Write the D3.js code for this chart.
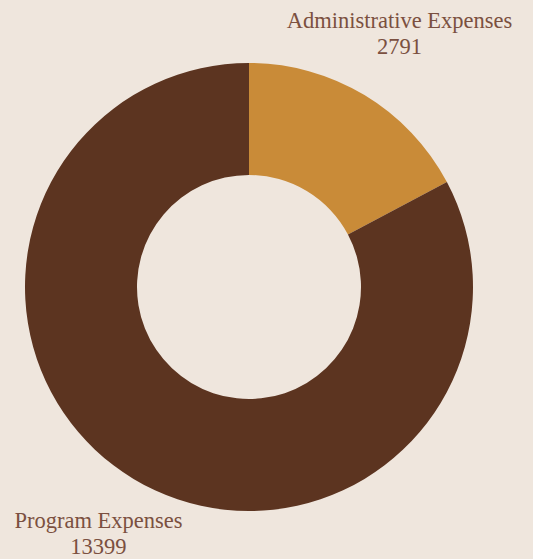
<!DOCTYPE html>
<html>
<head>
<meta charset="utf-8">
<script src="https://cdn.jsdelivr.net/npm/d3@7"></script>
<style>
  html, body { margin: 0; padding: 0; background: #efe6dd; }
  svg { display: block; }
</style>
</head>
<body>
<svg id="chart" width="533" height="559"></svg>
<script>
// Expense breakdown
const categories = ["Administrative Expenses", "Program Expenses"];
const values = [2791, 13399];
const colors = ["#c98b38", "#5c3420"];

const width = 533, height = 559;
const cx = 249, cy = 287;
const outerR = 224, innerR = 112, labelR = 292;

const svg = d3.select("#chart");
svg.append("rect").attr("width", width).attr("height", height).attr("fill", "#efe6dd");

const data = categories.map((c, i) => ({ name: c, value: values[i], color: colors[i] }));

const pie = d3.pie().value(d => d.value).sort(null);
const arc = d3.arc().innerRadius(innerR).outerRadius(outerR);
const labelArc = d3.arc().innerRadius(labelR).outerRadius(labelR);

const g = svg.append("g").attr("transform", `translate(${cx},${cy})`);
const arcs = pie(data);

g.selectAll("path.slice")
  .data(arcs)
  .join("path")
  .attr("class", "slice")
  .attr("d", arc)
  .attr("fill", d => d.data.color);

const labels = g.selectAll("g.label")
  .data(arcs)
  .join("g")
  .attr("class", "label")
  .attr("transform", d => `translate(${labelArc.centroid(d)})`);

const textStyle = sel => sel
  .attr("text-anchor", "middle")
  .attr("fill", "#7b5040")
  .style("font-family", "'Liberation Serif', 'DejaVu Serif', serif")
  .style("font-size", "22.5px");

labels.append("text").call(textStyle).attr("y", -9).text(d => d.data.name);
labels.append("text").call(textStyle).attr("y", 17).text(d => d.data.value);
</script>
</body>
</html>
